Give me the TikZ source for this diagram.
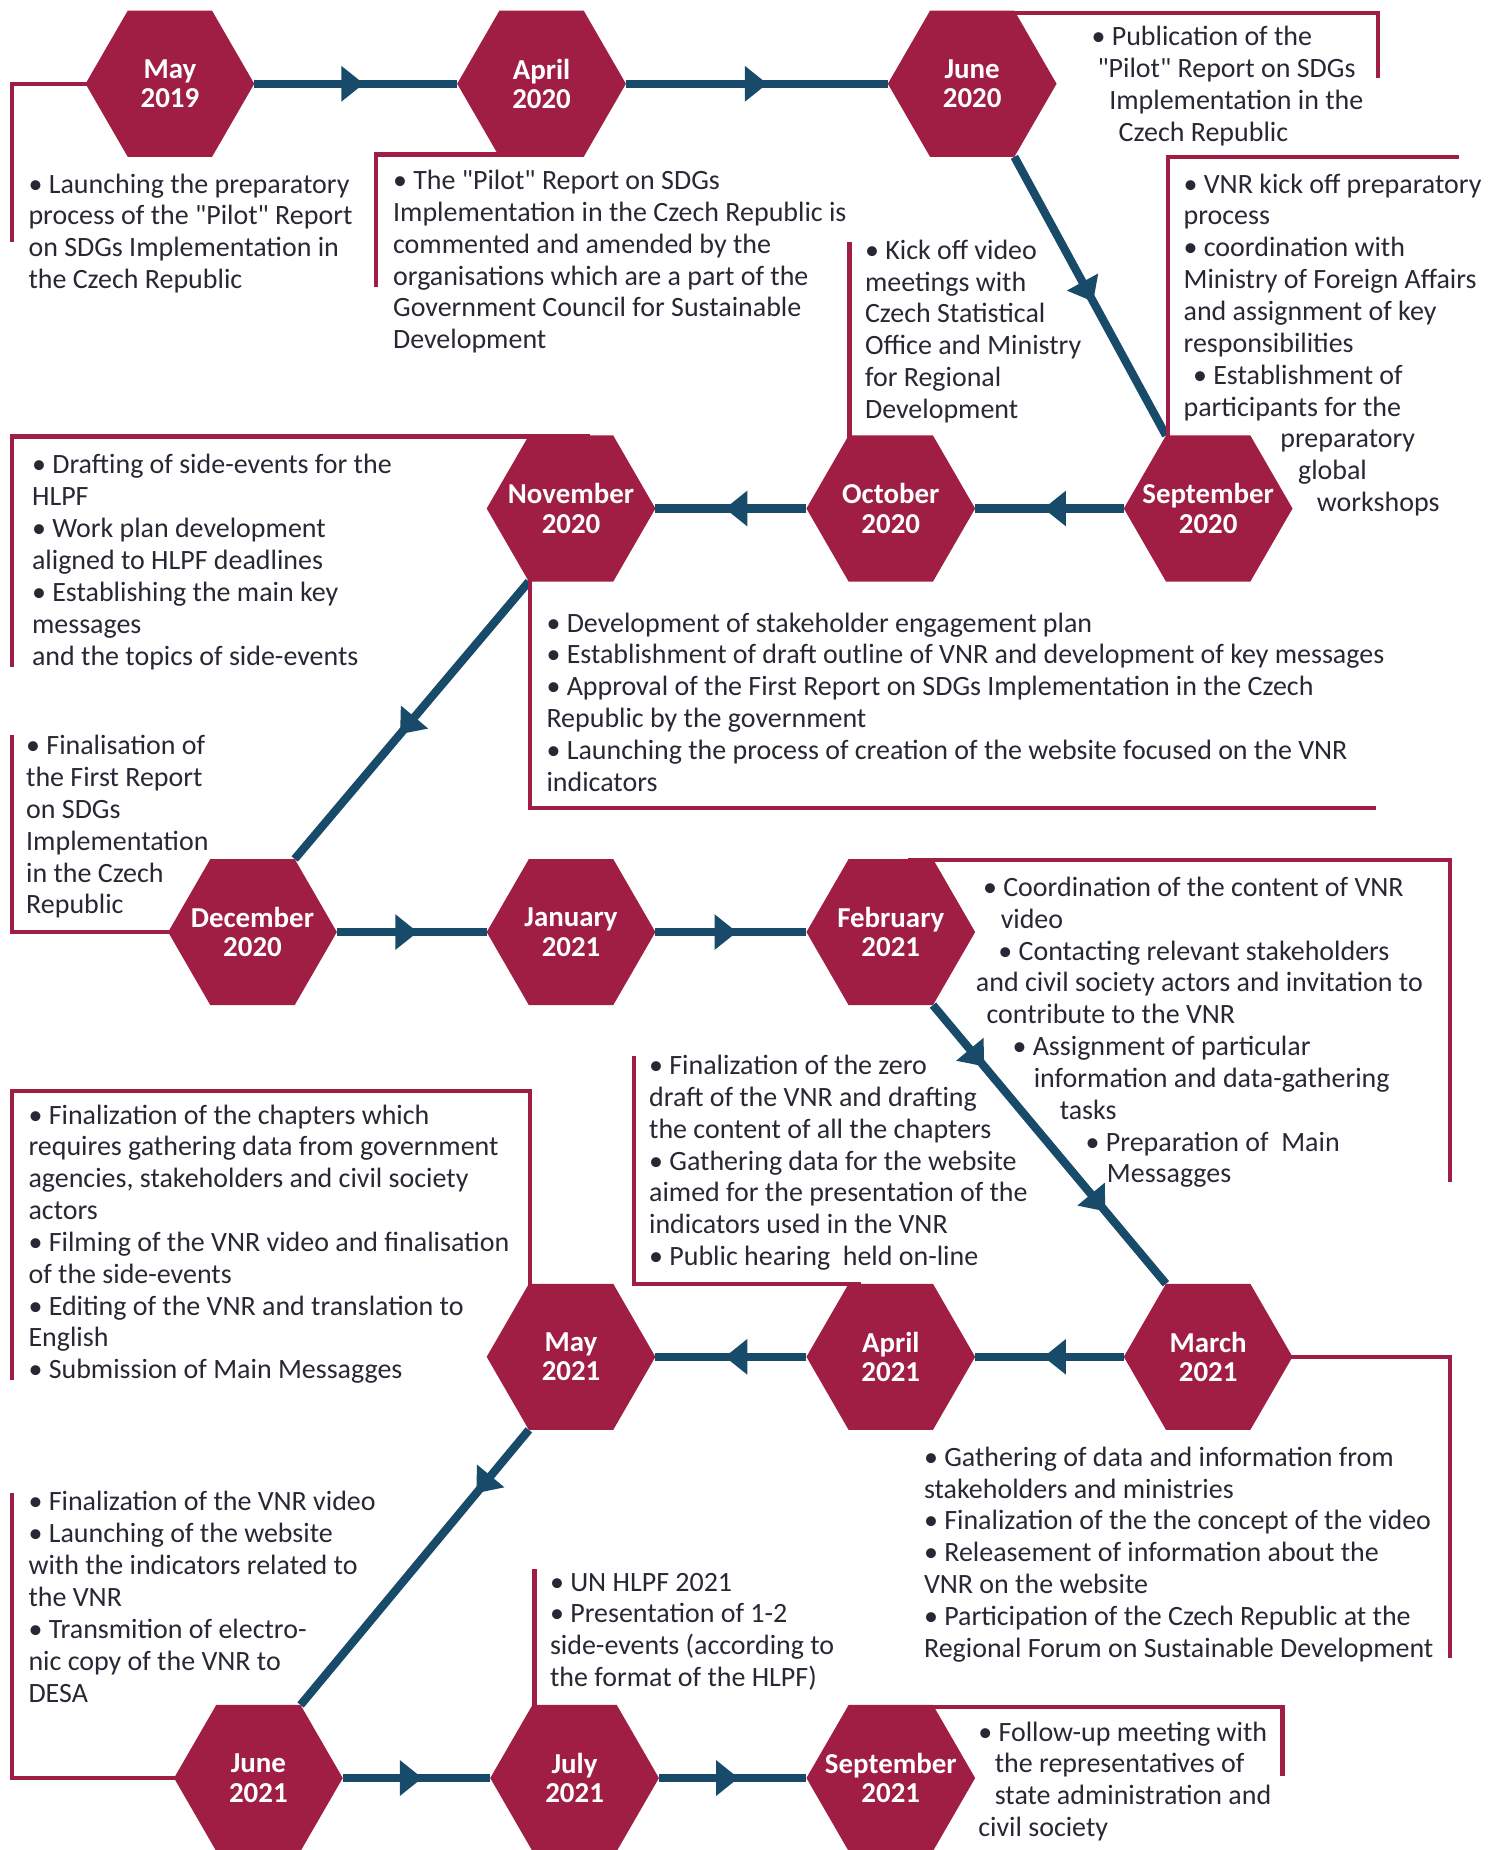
\documentclass[tikz,border=0pt]{standalone}
\usepackage{fontspec}
\setmainfont{Carlito}[Ligatures=TeXOff]
\usetikzlibrary{shapes.geometric,arrows.meta,decorations.markings}
\definecolor{crim}{RGB}{160,30,68}
\definecolor{navy}{RGB}{24,74,106}
\definecolor{txt}{RGB}{40,40,52}
\pgfdeclarelayer{background}
\pgfsetlayers{background,main}
\begin{document}
\begin{tikzpicture}[x=1pt,y=-1pt,
  hexa/.style={regular polygon, regular polygon sides=6, minimum size=143pt, inner sep=0pt, outer sep=0pt, fill=crim, draw=none},
  hexlabel/.style={text=white, font=\bfseries\fontsize{24.5}{25}\selectfont, align=center, inner sep=0pt},
  flow/.style={draw, color=navy, line width=7pt},
  midarrow/.style={postaction={decorate,decoration={markings,mark=at position #1 with {\arrow{Triangle[length=19pt,width=29pt]}}}}},
  bracket/.style={draw=crim, line width=3.5pt},
  info/.style={text=txt, font=\fontsize{23.7}{27}\selectfont, align=left, anchor=north west, inner sep=0pt, execute at begin node=\strut},
]
\useasboundingbox (0,0) rectangle (1270,1568);

% hexagons
\node[hexa] (may19) at (144,71) {};
\node[hexa] (apr20) at (459,71) {};
\node[hexa] (jun20) at (824,71) {};
\node[hexa] (nov20) at (484,431) {};
\node[hexa] (oct20) at (755,431) {};
\node[hexa] (sep20) at (1024,431) {};
\node[hexa] (dec20) at (214,790) {};
\node[hexa] (jan21) at (484,790) {};
\node[hexa] (feb21) at (755,790) {};
\node[hexa] (may21) at (484,1150) {};
\node[hexa] (apr21) at (755,1150) {};
\node[hexa] (mar21) at (1024,1150) {};
\node[hexa] (jun21) at (219,1507) {};
\node[hexa] (jul21) at (487,1507) {};
\node[hexa] (sep21) at (755,1507) {};

\node[hexlabel] (may19l) at (may19) {May\\2019};
\node[hexlabel] (apr20l) at (apr20) {April\\2020};
\node[hexlabel] (jun20l) at (jun20) {June\\2020};
\node[hexlabel] (nov20l) at (nov20) {November\\2020};
\node[hexlabel] (oct20l) at (oct20) {October\\2020};
\node[hexlabel] (sep20l) at (sep20) {September\\2020};
\node[hexlabel] (dec20l) at (dec20) {December\\2020};
\node[hexlabel] (jan21l) at (jan21) {January\\2021};
\node[hexlabel] (feb21l) at (feb21) {February\\2021};
\node[hexlabel] (may21l) at (may21) {May\\2021};
\node[hexlabel] (apr21l) at (apr21) {April\\2021};
\node[hexlabel] (mar21l) at (mar21) {March\\2021};
\node[hexlabel] (jun21l) at (jun21) {June\\2021};
\node[hexlabel] (jul21l) at (jul21) {July\\2021};
\node[hexlabel] (sep21l) at (sep21) {September\\2021};

\begin{pgfonlayer}{background}
% flow lines
\draw[flow, midarrow=0.54] (may19.0) -- (apr20.180);
\draw[flow, midarrow=0.54] (apr20.0) -- (jun20.180);
\draw[flow, midarrow=0.52] (jun20.300) -- (sep20.120);
\draw[flow, midarrow=0.54] (sep20.180) -- (oct20.0);
\draw[flow, midarrow=0.54] (oct20.180) -- (nov20.0);
\draw[flow, midarrow=0.55] (nov20.240) -- (dec20.60);
\draw[flow, midarrow=0.54] (dec20.0) -- (jan21.180);
\draw[flow, midarrow=0.54] (jan21.0) -- (feb21.180);
\draw[flow, midarrow=0.22, midarrow=0.74] (feb21.300) -- (mar21.120);
\draw[flow, midarrow=0.54] (mar21.180) -- (apr21.0);
\draw[flow, midarrow=0.54] (apr21.180) -- (may21.0);
\draw[flow, midarrow=0.23] (may21.240) -- (jun21.60);
\draw[flow, midarrow=0.54] (jun21.0) -- (jul21.180);
\draw[flow, midarrow=0.54] (jul21.0) -- (sep21.180);

% brackets
\draw[bracket] (may19.center) -- (10,71) -- (10,205);
\draw[bracket] (440,131) -- (319,131) -- (319,243);
\draw[bracket] (830,11) -- (1168,11) -- (1168,66);
\draw[bracket] (990,380) -- (990,133) -- (1237,133);
\draw[bracket] (720,380) -- (720,205);
\draw[bracket] (500,370) -- (10,370) -- (10,565);
\draw[bracket] (449,480) -- (449,685) -- (1166,685);
\draw[bracket] (dec20.center) -- (10,790) -- (10,623);
\draw[bracket] (770,729) -- (1229,729) -- (1229,1002);
\draw[bracket] (730,1088) -- (537,1088) -- (537,895);
\draw[bracket] (449,1100) -- (449,925) -- (10,925) -- (10,1170);
\draw[bracket] (mar21.center) -- (1229,1150) -- (1229,1405);
\draw[bracket] (jun21.center) -- (10,1507) -- (10,1265);
\draw[bracket] (453,1460) -- (453,1330);
\draw[bracket] (770,1447) -- (1087,1447) -- (1087,1505);
\end{pgfonlayer}

% texts
\node[info] (tmay19) at (24,147) {• Launching the preparatory\\process of the "Pilot" Report\\on SDGs Implementation in\\the Czech Republic};
\node[info] (tapr20) at (333,144) {• The "Pilot" Report on SDGs\\Implementation in the Czech Republic is\\commented and amended by the\\organisations which are a part of the\\Government Council for Sustainable\\Development};
\node[info] (tjun20) at (925,22) {• Publication of the\\\hspace*{5pt}"Pilot" Report on SDGs\\\hspace*{15pt}Implementation in the\\\hspace*{23pt}Czech Republic};
\node[info] (tsep20) at (1003,147) {• VNR kick off preparatory\\process\\• coordination with\\Ministry of Foreign Affairs\\and assignment of key\\responsibilities\\\hspace*{8pt}• Establishment of\\participants for the\\\hspace*{82pt}preparatory\\\hspace*{97pt}global\\\hspace*{113pt}workshops};
\node[info] (toct20) at (733,203) {• Kick off video\\meetings with\\Czech Statistical\\Office and Ministry\\for Regional\\Development};
\node[info] (tnov20a) at (27,385) {• Drafting of side-events for the\\HLPF\\• Work plan development\\aligned to HLPF deadlines\\• Establishing the main key\\messages\\and the topics of side-events};
\node[info] (tnov20b) at (463,519) {• Development of stakeholder engagement plan\\• Establishment of draft outline of VNR and development of key messages\\• Approval of the First Report on SDGs Implementation in the Czech\\Republic by the government\\• Launching the process of creation of the website focused on the VNR\\indicators};
\node[info] (tdec20) at (22,623) {• Finalisation of\\the First Report\\on SDGs\\Implementation\\in the Czech\\Republic};
\node[info] (tfeb21) at (827,743) {\hspace*{6pt}• Coordination of the content of VNR\\\hspace*{21pt}video\\\hspace*{19pt}• Contacting relevant stakeholders\\and civil society actors and invitation to\\\hspace*{9pt}contribute to the VNR\\\hspace*{31pt}• Assignment of particular\\\hspace*{49pt}information and data-gathering\\\hspace*{71pt}tasks\\\hspace*{93pt}• Preparation of\ \ Main\\\hspace*{111pt}Messagges};
\node[info] (tapr21) at (550,894) {• Finalization of the zero\\draft of the VNR and drafting\\the content of all the chapters\\• Gathering data for the website\\aimed for the presentation of the\\indicators used in the VNR\\• Public hearing\ \ held on-line};
\node[info] (tmay21) at (24,936) {• Finalization of the chapters which\\requires gathering data from government\\agencies, stakeholders and civil society\\actors\\• Filming of the VNR video and finalisation\\of the side-events\\• Editing of the VNR and translation to\\English\\• Submission of Main Messagges};
\node[info] (tmar21) at (783,1226) {• Gathering of data and information from\\stakeholders and ministries\\• Finalization of the the concept of the video\\• Releasement of information about the\\VNR on the website\\• Participation of the Czech Republic at the\\Regional Forum on Sustainable Development};
\node[info] (tjun21) at (24,1264) {• Finalization of the VNR video\\• Launching of the website\\with the indicators related to\\the VNR\\• Transmition of electro-\\nic copy of the VNR to\\DESA};
\node[info] (tjul21) at (466,1333) {• UN HLPF 2021\\• Presentation of 1-2\\side-events (according to\\the format of the HLPF)};
\node[info] (tsep21) at (829,1459) {• Follow-up meeting with\\\hspace*{14pt}the representatives of\\\hspace*{14pt}state administration and\\civil society};
\end{tikzpicture}
\end{document}
